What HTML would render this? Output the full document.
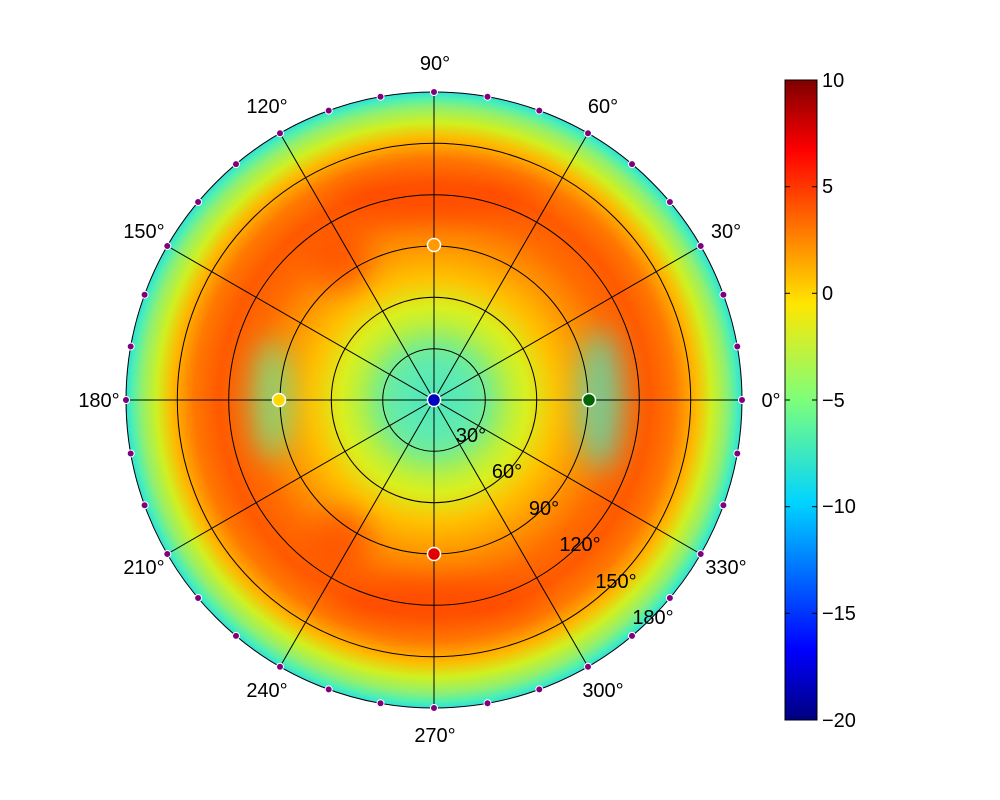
<!DOCTYPE html>
<html><head><style>body{margin:0;background:#fff}svg{display:block}text{font-family:"Liberation Sans",sans-serif;font-size:20px;fill:#000}</style></head><body>
<svg width="1000" height="800" viewBox="0 0 1000 800">
<defs>
<radialGradient id="rg" cx="434" cy="400" r="308" gradientUnits="userSpaceOnUse">
<stop offset="0" stop-color="#50e8b0"/>
<stop offset="0.1" stop-color="#80f090"/>
<stop offset="0.2" stop-color="#a8f050"/>
<stop offset="0.3" stop-color="#d8f020"/>
<stop offset="0.4" stop-color="#ffc000"/>
<stop offset="0.5" stop-color="#ff9400"/>
<stop offset="0.6" stop-color="#ff6c00"/>
<stop offset="0.7" stop-color="#ff5a00"/>
<stop offset="0.78" stop-color="#ff7800"/>
<stop offset="0.85" stop-color="#ffb800"/>
<stop offset="0.9" stop-color="#d0f020"/>
<stop offset="0.95" stop-color="#90f070"/>
<stop offset="0.98" stop-color="#50f0b0"/>
<stop offset="1" stop-color="#30e0d8"/>
</radialGradient>
<linearGradient id="cb" x1="0" y1="1" x2="0" y2="0">
<stop offset="0" stop-color="#00007f"/>
<stop offset="0.11" stop-color="#0000ff"/>
<stop offset="0.34" stop-color="#00d4ff"/>
<stop offset="0.5" stop-color="#7dff7a"/>
<stop offset="0.65" stop-color="#ffe600"/>
<stop offset="0.89" stop-color="#ff0000"/>
<stop offset="1" stop-color="#7f0000"/>
</linearGradient>
<filter id="bl"><feGaussianBlur stdDeviation="14"/></filter>
<clipPath id="cp"><circle cx="434" cy="400" r="308"/></clipPath>
</defs>
<circle cx="434" cy="400" r="308" fill="url(#rg)"/>
<g clip-path="url(#cp)" filter="url(#bl)" opacity="0.7">
<ellipse cx="600" cy="400" rx="22" ry="70" fill="#40e8d0"/>
<ellipse cx="272" cy="400" rx="20" ry="60" fill="#60f0a0"/>
<ellipse cx="434" cy="400" rx="60" ry="60" fill="#50e8c0"/>
<ellipse cx="434" cy="200" rx="100" ry="18" fill="#ff4000"/>
<ellipse cx="434" cy="600" rx="100" ry="18" fill="#ff4000"/>
<ellipse cx="340" cy="260" rx="30" ry="30" fill="#ff4a00"/>
<ellipse cx="340" cy="540" rx="30" ry="30" fill="#ff4a00"/>
</g>
<g fill="none" stroke="#000" stroke-width="1">
<circle cx="434" cy="400" r="51.3"/><circle cx="434" cy="400" r="102.7"/><circle cx="434" cy="400" r="154"/><circle cx="434" cy="400" r="205.3"/><circle cx="434" cy="400" r="256.7"/><circle cx="434" cy="400" r="308"/>
<line x1="126" y1="400" x2="742" y2="400"/><line x1="434" y1="92" x2="434" y2="708"/>
<line x1="167.3" y1="246" x2="700.7" y2="554"/><line x1="167.3" y1="554" x2="700.7" y2="246"/>
<line x1="280" y1="133.3" x2="588" y2="666.7"/><line x1="280" y1="666.7" x2="588" y2="133.3"/>
</g>
<g fill="#7f007f" stroke="#fff" stroke-width="1">
<circle cx="742" cy="400" r="3.5"/><circle cx="737.3" cy="346.5" r="3.5"/><circle cx="723.4" cy="294.7" r="3.5"/><circle cx="700.7" cy="246" r="3.5"/><circle cx="669.9" cy="202" r="3.5"/><circle cx="632" cy="164.1" r="3.5"/><circle cx="588" cy="133.3" r="3.5"/><circle cx="539.3" cy="110.6" r="3.5"/><circle cx="487.5" cy="96.7" r="3.5"/><circle cx="434" cy="92" r="3.5"/><circle cx="380.5" cy="96.7" r="3.5"/><circle cx="328.7" cy="110.6" r="3.5"/><circle cx="280" cy="133.3" r="3.5"/><circle cx="236" cy="164.1" r="3.5"/><circle cx="198.1" cy="202" r="3.5"/><circle cx="167.3" cy="246" r="3.5"/><circle cx="144.6" cy="294.7" r="3.5"/><circle cx="130.7" cy="346.5" r="3.5"/><circle cx="126" cy="400" r="3.5"/><circle cx="130.7" cy="453.5" r="3.5"/><circle cx="144.6" cy="505.3" r="3.5"/><circle cx="167.3" cy="554" r="3.5"/><circle cx="198.1" cy="598" r="3.5"/><circle cx="236" cy="635.9" r="3.5"/><circle cx="280" cy="666.7" r="3.5"/><circle cx="328.7" cy="689.4" r="3.5"/><circle cx="380.5" cy="703.3" r="3.5"/><circle cx="434" cy="708" r="3.5"/><circle cx="487.5" cy="703.3" r="3.5"/><circle cx="539.3" cy="689.4" r="3.5"/><circle cx="588" cy="666.7" r="3.5"/><circle cx="632" cy="635.9" r="3.5"/><circle cx="669.9" cy="598" r="3.5"/><circle cx="700.7" cy="554" r="3.5"/><circle cx="723.4" cy="505.3" r="3.5"/><circle cx="737.3" cy="453.5" r="3.5"/>
</g>
<g stroke="#fff" stroke-width="1.5">
<circle cx="434" cy="245" r="6.5" fill="#ff9a00"/>
<circle cx="279" cy="400" r="6.5" fill="#ffd800"/>
<circle cx="589" cy="400" r="6.5" fill="#006400"/>
<circle cx="434" cy="554" r="6.5" fill="#e00000"/>
<circle cx="434" cy="400" r="6.5" fill="#0000c0"/>
</g>
<g text-anchor="middle">
<text x="771" y="407">0°</text><text x="726" y="238">30°</text><text x="603" y="113">60°</text><text x="435" y="70">90°</text><text x="267" y="113">120°</text><text x="144" y="238">150°</text><text x="99" y="407">180°</text><text x="144" y="574">210°</text><text x="267" y="697">240°</text><text x="435" y="742">270°</text><text x="603" y="697">300°</text><text x="726" y="574">330°</text>
<text x="471" y="442">30°</text><text x="507" y="478">60°</text><text x="544" y="515">90°</text><text x="580" y="551">120°</text><text x="616" y="588">150°</text><text x="653" y="624">180°</text>
</g>
<rect x="785" y="80" width="32" height="640" fill="url(#cb)" stroke="#000" stroke-width="1"/>
<g stroke="#000"><line x1="785" y1="186.7" x2="790" y2="186.7"/><line x1="812" y1="186.7" x2="817" y2="186.7"/><line x1="785" y1="293.3" x2="790" y2="293.3"/><line x1="812" y1="293.3" x2="817" y2="293.3"/><line x1="785" y1="400" x2="790" y2="400"/><line x1="812" y1="400" x2="817" y2="400"/><line x1="785" y1="506.7" x2="790" y2="506.7"/><line x1="812" y1="506.7" x2="817" y2="506.7"/><line x1="785" y1="613.3" x2="790" y2="613.3"/><line x1="812" y1="613.3" x2="817" y2="613.3"/></g>
<g><text x="822" y="87">10</text><text x="822" y="193">5</text><text x="822" y="300">0</text><text x="822" y="407">−5</text><text x="822" y="513">−10</text><text x="822" y="620">−15</text><text x="822" y="727">−20</text></g>
</svg>
</body></html>
